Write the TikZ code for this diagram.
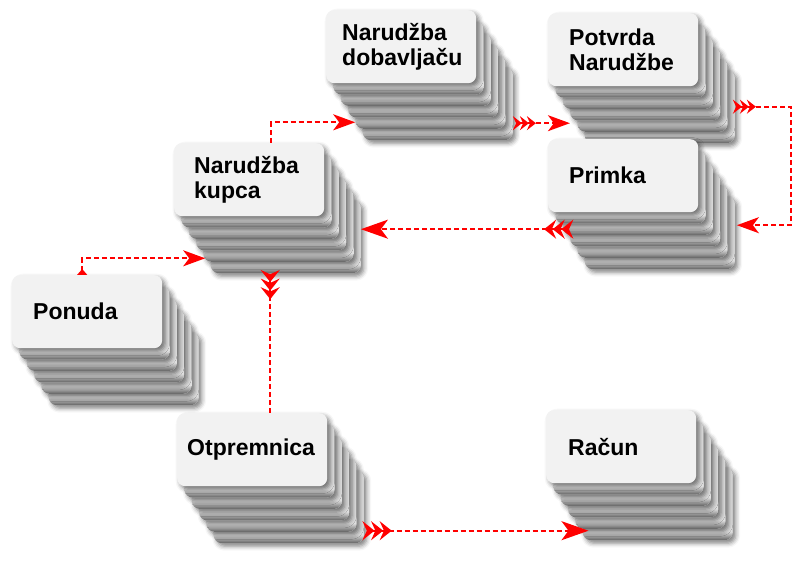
\documentclass[tikz,border=0pt]{standalone}
\usepackage{fontspec}
\setmainfont{Liberation Sans}
\usetikzlibrary{arrows.meta,calc,shadows,shadows.blur}

\pgfdeclareverticalshading{cardShade}{100bp}{color(0bp)=(black!62); color(25bp)=(black!62); color(31bp)=(black!12); color(100bp)=(black!12)}

\begin{document}
\begin{tikzpicture}
[x=1pt,y=-1pt,%
  frontCard/.style={shape=rectangle,rounded corners=8pt,fill=black!5,inner sep=0pt,%
    minimum width=150pt,minimum height=73pt,anchor=north west,%
    blur shadow={shadow xshift=3pt,shadow yshift=-3pt,shadow blur radius=4.5pt,shadow opacity=50}},%
  backCard/.style={frontCard,shading=cardShade},%
  cardText/.style={anchor=west,align=left,inner sep=0pt,font=\bfseries\fontsize{23}{25.5}\selectfont},%
  flowLine/.style={red,line width=1.8pt,dash pattern=on 5pt off 3pt},%
  chevS/.tip={Stealth[reversed,length=9pt,width=14pt,inset=3.2pt,sep=-2pt]},%
  chevL/.tip={Stealth[reversed,length=12pt,width=19pt,inset=4.3pt,sep=-3.4pt]},%
  tipS/.tip={Stealth[length=22pt,width=16pt,inset=6pt]},%
  tipL/.tip={Stealth[length=27pt,width=19pt,inset=7pt]}]
\useasboundingbox (0,0) rectangle (800,569);
%% stacks of cards
\foreach \name/\x/\y/\pad/\txt in {
  ponuda/12/275/21/Ponuda, kupca/174/143/20/{Narudžba\\kupca},
  dobav/326/10/16/{Narudžba\\dobavljaču}, potvrda/548/13/21/{Potvrda\\Narudžbe},
  primka/548/139/21/Primka, otp/177/413/10/Otpremnica, racun/546/410/22/Račun}
{
  \foreach \k in {5,4,3,2,1}
    \node (\name-\k) at (\x+7.3*\k,\y+11.4*\k) [backCard] {};
  \node (\name) at (\x,\y) [frontCard] {};
  \node (\name-t) at ([xshift=\pad pt]\name.west) [cardText] {\txt};
}
%% connectors
\draw[flowLine,{Triangle[reversed,length=6pt,width=10pt]}-{tipS}]
  ([xshift=-5pt]ponuda.north) |- ($(kupca-4.west)+(2,33)$);
\draw[flowLine,-{tipS}]
  ([xshift=22pt]kupca.north) |- ($(dobav-4.west)+(0,30)$);
\coordinate (dobavOut) at ($(dobav-5.east)+(2,19.5)$);
\draw[flowLine,{chevS[] chevS[] chevS[]}-{tipS}]
  (dobavOut) -- (dobavOut -| potvrda-3.west);
\draw[flowLine,{chevS[] chevS[] chevS[]}-{tipS}]
  (potvrda-5.east) -- ++(56,0) |- ($(primka-5.east)+(2,-7.5)$);
\coordinate (primkaOut) at ($(primka-3.west)+(0,19.3)$);
\draw[flowLine,{chevL[] chevL[] chevL[]}-{tipL}]
  (primkaOut) -- (primkaOut -| kupca-5.east);
\coordinate (kupcaOut) at ($(kupca-5.south)+(-15.5,0)$);
\draw[flowLine,{chevL[] chevL[] chevL[]}-]
  (kupcaOut) -- (kupcaOut |- otp.north);
\coordinate (otpOut) at ($(otp-5.east)+(2,24)$);
\draw[flowLine,{chevL[] chevL[] chevL[]}-{tipL}]
  (otpOut) -- ($(otpOut -| racun-5.west)+(6,0)$);
\end{tikzpicture}
\end{document}
